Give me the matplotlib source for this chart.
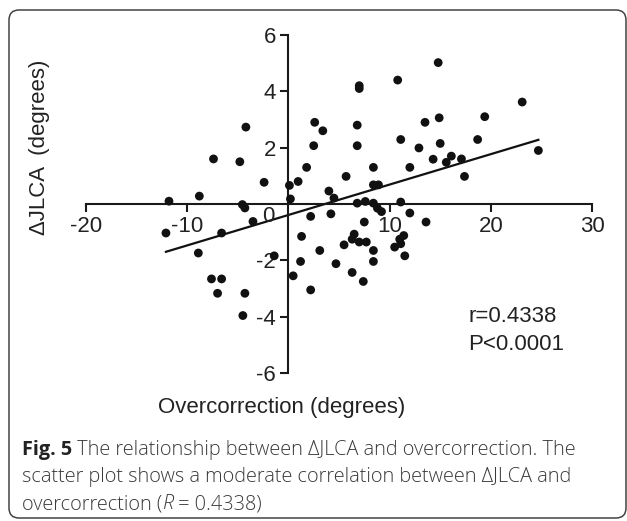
import matplotlib
matplotlib.use("Agg")
import matplotlib.pyplot as plt
import matplotlib.transforms as mtransforms
from matplotlib.patches import FancyBboxPatch
import numpy as np

plt.rcParams['axes.unicode_minus'] = False

# ---------------- data ----------------
overcorrection = [7.0, 7.0, -4.2, 2.6, 3.4, 6.8, -7.4, -4.8, 2.5, 6.8,
                  1.8, 8.4, -2.4, 0.1, 0.96, 5.7, 4.0, 8.4, 8.9, -8.8,
                  -11.8, 14.8, 10.8, 23.1, 19.4, 14.9, 13.5, 11.1, 18.7, 12.9,
                  15.0, 12.0, 14.3, 16.1, 15.6, 17.1, 24.7, 17.4, -4.55, -4.3,
                  0.2, 4.5, -12.1, -6.6, -3.5, -8.9, -7.6, -6.6, -7.0, -4.3,
                  -4.5, -1.4, 0.47, 1.2, 1.3, 2.2, 2.2, 3.1, 4.2, 4.7,
                  5.5, 6.3, 6.5, 6.3, 7.0, 7.7, 7.4, 7.5, 6.8, 7.6,
                  8.4, 8.8, 9.2, 8.4, 8.4, 11.1, 12.0, 13.6, 11.4, 11.0,
                  10.5, 11.1, 11.5]
delta_jlca = [4.2, 4.1, 2.73, 2.9, 2.6, 2.8, 1.6, 1.5, 2.07, 2.07,
              1.3, 1.3, 0.77, 0.66, 0.8, 0.98, 0.46, 0.68, 0.68, 0.28,
              0.1, 5.02, 4.4, 3.62, 3.1, 3.06, 2.9, 2.29, 2.29, 1.99,
              2.15, 1.3, 1.59, 1.7, 1.48, 1.6, 1.9, 0.98, -0.02, -0.14,
              0.18, 0.21, -1.03, -1.03, -0.62, -1.74, -2.66, -2.66, -3.17, -3.17,
              -3.96, -1.84, -2.55, -2.04, -1.15, -0.44, -3.05, -1.65, -0.35, -2.12,
              -1.45, -2.43, -1.07, -1.25, -1.35, -1.35, -2.75, -0.64, 0.03, 0.09,
              0.03, -0.15, -0.27, -1.65, -2.04, 0.07, -0.32, -0.64, -1.12, -1.25,
              -1.53, -1.41, -1.84]

fit_slope = 0.108
fit_intercept = -0.39

x_ticks = [-20, -10, 10, 20, 30]
y_ticks = [-6, -4, -2, 2, 4, 6]

stats_lines = ["r=0.4338", "P<0.0001"]
x_label = "Overcorrection (degrees)"
y_label = "\u0394JLCA  (degrees)"

# ---------------- figure ----------------
W, H = 627, 521
fig = plt.figure(figsize=(W / 100, H / 100), dpi=100)

def fx(px):
    return px / W

def fy(py):
    return 1 - py / H

# border (rounded frame)
border = FancyBboxPatch((9 / 100, (H - 518) / 100), (626 - 9) / 100, (518 - 10) / 100,
                        boxstyle="round,pad=0,rounding_size=0.1",
                        transform=fig.dpi_scale_trans, fill=False,
                        edgecolor="#444444", linewidth=1.1)
fig.patches.append(border)

ax = fig.add_axes([fx(86), fy(373), fx(592) - fx(86), fy(35) - fy(373)])
ax.set_xlim(-20, 30)
ax.set_ylim(-6, 6)
ax.patch.set_alpha(0)

for s in ["top", "right"]:
    ax.spines[s].set_visible(False)
ax.spines["left"].set_position(("data", 0))
ax.spines["bottom"].set_position(("data", 0))
for s in ["left", "bottom"]:
    ax.spines[s].set_linewidth(1.5)
    ax.spines[s].set_color("#1a1a1a")

tick_font = dict(family="Liberation Sans", size=16, color="#222222")
ax.set_xticks(x_ticks)
ax.set_xticklabels([str(t) for t in x_ticks], fontdict=tick_font)
ax.set_yticks(y_ticks)
ax.set_yticklabels([str(t) for t in y_ticks], fontdict=tick_font)
ax.tick_params(axis="both", direction="out", length=6, width=1.5, color="#1a1a1a")
ax.tick_params(axis="x", pad=3)
ax.tick_params(axis="y", pad=3)

# "0" label at the origin
off = mtransforms.offset_copy(ax.transData, fig=fig, x=-20, y=-13, units="dots")
ax.text(0, 0, "0", transform=off, ha="center", va="center",
        fontfamily="Liberation Sans", fontsize=16, color="#222222")

# scatter
ax.scatter(overcorrection, delta_jlca, s=40, color="#111111", edgecolors="none",
           zorder=3, clip_on=False)

# regression line
xs = np.array([min(overcorrection), max(overcorrection)])
ax.plot(xs, fit_slope * xs + fit_intercept, color="#111111", lw=1.6, zorder=2)

# stats text
fig.text(fx(468), fy(316), stats_lines[0], ha="left", va="center",
         family="Liberation Sans", size=16, color="#222222")
fig.text(fx(468), fy(345), stats_lines[1], ha="left", va="center",
         family="Liberation Sans", size=16, color="#222222")

# axis labels
fig.text(fx(282), fy(407), x_label, ha="center", va="center",
         family="Liberation Sans", size=16, color="#222222")
fig.text(fx(40), fy(147), y_label, ha="center", va="center", rotation=90,
         family="Liberation Sans", size=16, color="#222222")

# caption
renderer = fig.canvas.get_renderer()
cap_font = dict(family="Open Sans", size=14.3, color="#3a3a3a")

def draw_line(x_px, base_px, segments):
    x = x_px
    for txt, extra in segments:
        kw = dict(cap_font)
        kw.update(extra)
        t = fig.text(fx(x), fy(base_px), txt, ha="left", va="baseline", **kw)
        bb = t.get_window_extent(renderer)
        x += bb.width

light = {"weight": "light"}
draw_line(22, 455, [("Fig. 5", {"weight": "bold", "color": "#222222"}),
                    (" The relationship between \u0394JLCA and overcorrection. The", light)])
draw_line(22, 482, [("scatter plot shows a moderate correlation between \u0394JLCA and", light)])
draw_line(22, 509, [("overcorrection (", light), ("R", {"weight": "light", "style": "italic"}),
                    (" = 0.4338)", light)])

fig.savefig("out.png", dpi=100)
